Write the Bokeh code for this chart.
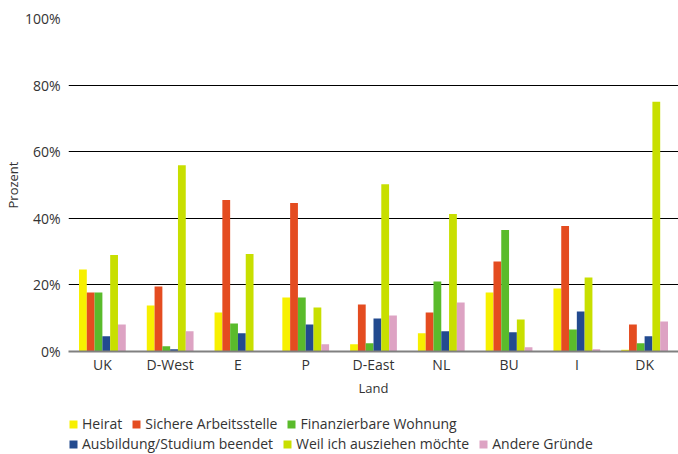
from bokeh.plotting import figure
from bokeh.layouts import column
from bokeh.models import (ColumnDataSource, FactorRange, Legend, LegendItem,
                          FixedTicker, Range1d, PrintfTickFormatter)
from bokeh.transform import dodge
from bokeh.embed import file_html
from bokeh.resources import INLINE

countries = ["UK", "D-West", "E", "P", "D-East", "NL", "BU", "I", "DK"]
heirat = [24.6, 13.8, 11.7, 16.2, 2.2, 5.5, 17.7, 18.9, 0.5]
arbeit = [17.7, 19.5, 45.5, 44.6, 14.1, 11.7, 27.0, 37.7, 8.1]
wohnung = [17.7, 1.6, 8.4, 16.2, 2.5, 21.0, 36.5, 6.6, 2.5]
ausbildung = [4.6, 0.7, 5.5, 8.1, 9.9, 6.1, 5.8, 12.0, 4.6]
ausziehen = [29.0, 55.9, 29.3, 13.2, 50.2, 41.3, 9.6, 22.2, 75.0]
andere = [8.1, 6.1, 0.0, 2.2, 10.8, 14.7, 1.3, 0.7, 9.0]
y_ticks = [0, 20, 40, 60, 80, 100]

series_names = ["Heirat", "Sichere Arbeitsstelle", "Finanzierbare Wohnung",
                "Ausbildung/Studium beendet", "Weil ich ausziehen möchte", "Andere Gründe"]
series_keys = ["heirat", "arbeit", "wohnung", "ausbildung", "ausziehen", "andere"]
colors = ["#F7F000", "#E44C20", "#5ABB2B", "#224A8F", "#C8DF00", "#DDA3C3"]

source = ColumnDataSource(dict(country=countries, heirat=heirat, arbeit=arbeit,
                               wohnung=wohnung, ausbildung=ausbildung,
                               ausziehen=ausziehen, andere=andere))

FONT = "Open Sans"
TXT = "#333333"

p = figure(x_range=FactorRange(*countries), y_range=Range1d(0, 100),
           width=678, height=400, output_backend="svg", toolbar_location=None,
           min_border_left=68, min_border_right=0, min_border_top=18,
           min_border_bottom=49)

bw = 0.115
for i, (k, c) in enumerate(zip(series_keys, colors)):
    p.vbar(x=dodge("country", (i - 2.5) * bw, range=p.x_range), top=k,
           width=bw, source=source, fill_color=c, line_color=None)

p.outline_line_color = None
p.xgrid.grid_line_color = None
p.ygrid.ticker = FixedTicker(ticks=y_ticks[1:])
p.ygrid.grid_line_color = "black"
p.ygrid.grid_line_width = 1

p.yaxis.ticker = FixedTicker(ticks=y_ticks)
p.yaxis.formatter = PrintfTickFormatter(format="%d%%")
p.yaxis.axis_line_color = None
p.yaxis.major_tick_line_color = None
p.yaxis.minor_tick_line_color = None
p.yaxis.major_tick_out = 0
p.yaxis.major_tick_in = 0
p.yaxis.major_label_text_font = FONT
p.yaxis.major_label_text_font_size = "14px"
p.yaxis.major_label_text_color = TXT
p.yaxis.major_label_standoff = 8
p.yaxis.axis_label = "Prozent"
p.yaxis.axis_label_text_font = FONT
p.yaxis.axis_label_text_font_size = "13px"
p.yaxis.axis_label_text_font_style = "normal"
p.yaxis.axis_label_text_color = TXT
p.yaxis.axis_label_standoff = 0

p.xaxis.axis_line_color = "#808080"
p.xaxis.axis_line_width = 2
p.xaxis.major_tick_line_color = None
p.xaxis.minor_tick_line_color = None
p.xaxis.major_tick_out = 0
p.xaxis.major_tick_in = 0
p.xaxis.major_label_text_font = FONT
p.xaxis.major_label_text_font_size = "14px"
p.xaxis.major_label_text_color = TXT
p.xaxis.major_label_standoff = 3
p.xaxis.axis_label = "Land"
p.xaxis.axis_label_text_font = FONT
p.xaxis.axis_label_text_font_size = "13px"
p.xaxis.axis_label_text_font_style = "normal"
p.xaxis.axis_label_text_color = TXT
p.xaxis.axis_label_standoff = 2

# legend strip (frame aligned with the chart frame by the column layout)
q = figure(width=678, height=54, output_backend="svg", toolbar_location=None,
           x_axis_location=None, y_axis_location=None,
           x_range=Range1d(0, 1), y_range=Range1d(0, 1),
           min_border_left=0, min_border_right=0, min_border_top=0,
           min_border_bottom=0)
q.outline_line_color = None
q.grid.grid_line_color = None
offscreen = ColumnDataSource(dict(x=[5.0], top=[0.0]))
dummies = [q.vbar(x="x", top="top", width=0.1, source=offscreen, fill_color=c,
                  line_color=None) for c in colors]


def make_legend(idx, vy):
    items = [LegendItem(label=series_names[i], renderers=[dummies[i]]) for i in idx]
    return Legend(items=items, orientation="horizontal", location=(0, vy),
                  label_text_font=FONT, label_text_font_size="14px",
                  label_text_color=TXT, glyph_width=10, glyph_height=10,
                  label_height=10, label_standoff=4, spacing=9,
                  padding=0, margin=0, border_line_color=None,
                  background_fill_alpha=0)


q.add_layout(make_legend([0, 1, 2], 21))
q.add_layout(make_legend([3, 4, 5], 1))

open("out.html", "w").write(file_html(column(p, q), INLINE))
